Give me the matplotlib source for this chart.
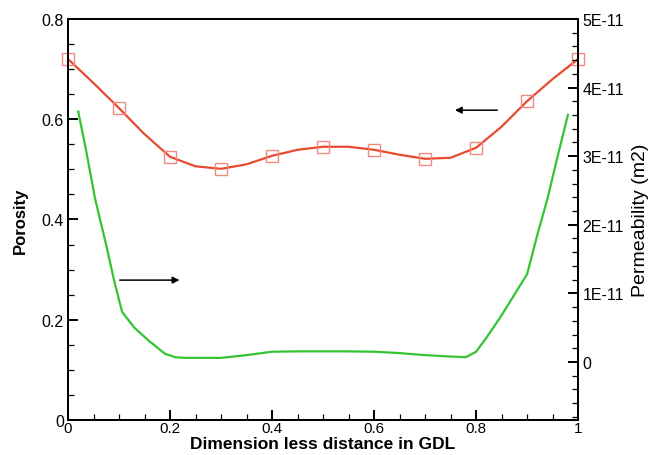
import matplotlib
matplotlib.use("Agg")
import matplotlib.pyplot as plt
from matplotlib.ticker import MultipleLocator

plt.rcParams['font.family'] = ['Liberation Sans', 'DejaVu Sans']

# porosity (markers every 0.1)
por_x = [0.0, 0.05, 0.1, 0.15, 0.2, 0.25, 0.3, 0.35, 0.4, 0.45, 0.5,
         0.55, 0.6, 0.65, 0.7, 0.75, 0.8, 0.85, 0.9, 0.95, 1.0]
por_y = [0.720, 0.672, 0.622, 0.570, 0.525, 0.506, 0.501, 0.510, 0.527, 0.539, 0.545,
         0.545, 0.539, 0.529, 0.521, 0.523, 0.543, 0.585, 0.636, 0.680, 0.720]

# permeability (m2)
perm_x = [0.02, 0.035, 0.053, 0.075, 0.09, 0.106, 0.13, 0.16, 0.19, 0.21, 0.23,
          0.26, 0.30, 0.35, 0.40, 0.45, 0.50, 0.55, 0.60, 0.65, 0.70, 0.75,
          0.78, 0.80, 0.82, 0.85, 0.875, 0.90, 0.92, 0.94, 0.96, 0.98]
perm_y = [3.65, 3.10, 2.38, 1.70, 1.20, 0.73, 0.50, 0.30, 0.12, 0.07, 0.06,
          0.06, 0.06, 0.10, 0.15, 0.155, 0.155, 0.155, 0.15, 0.13, 0.10, 0.08,
          0.07, 0.15, 0.35, 0.68, 0.98, 1.28, 1.85, 2.38, 3.00, 3.60]
perm_y = [v * 1e-11 for v in perm_y]

fig = plt.figure(figsize=(6.51, 4.56), dpi=100)
ax = fig.add_axes([0.1045, 0.0768, 0.7835, 0.8795])
ax2 = ax.twinx()

ax.plot(por_x, por_y, color="#e84a30", lw=1.6, zorder=3)
ax.plot(por_x[::2], por_y[::2], ls="none", marker="s", ms=9, mfc="none",
        mec="#f08a80", mew=1.0, zorder=4, clip_on=False)
ax2.plot(perm_x, perm_y, color="#33c433", lw=1.6)

ax.set_xlim(0, 1)
ax.set_ylim(0, 0.8)
ax2.set_ylim(-0.845e-11, 5e-11)

ax.xaxis.set_major_locator(MultipleLocator(0.2))
ax.xaxis.set_minor_locator(MultipleLocator(0.05))
ax.yaxis.set_major_locator(MultipleLocator(0.2))
ax.yaxis.set_minor_locator(MultipleLocator(0.05))
ax2.yaxis.set_major_locator(MultipleLocator(1e-11))
ax2.yaxis.set_minor_locator(MultipleLocator(0.2e-11))

ax.set_xticks([0, 0.2, 0.4, 0.6, 0.8, 1.0])
ax.set_xticklabels(["0", "0.2", "0.4", "0.6", "0.8", "1"])
ax.set_yticks([0, 0.2, 0.4, 0.6, 0.8])
ax.set_yticklabels(["0", "0.2", "0.4", "0.6", "0.8"])
ax2.set_yticks([0, 1e-11, 2e-11, 3e-11, 4e-11, 5e-11])
ax2.set_yticklabels(["0", "1E-11", "2E-11", "3E-11", "4E-11", "5E-11"])

for a in (ax, ax2):
    a.tick_params(which="major", direction="in", length=7, width=1.4, labelsize=11.5, pad=3)
    a.tick_params(which="minor", direction="in", length=4, width=0.9)
    for s in a.spines.values():
        s.set_linewidth(1.4)
ax.tick_params(axis="both", top=False, right=False)
ax.tick_params(axis="y", which="both", right=False)
ax.tick_params(axis="x", pad=1, labelsize=11)

ax.set_xlabel("Dimension less distance in GDL", fontsize=12.5, fontweight="bold")
ax.xaxis.set_label_coords(0.5, -0.039)
ax.set_ylabel("Porosity", fontsize=12, fontweight="bold")
ax.yaxis.set_label_coords(-0.078, 0.5)
ax2.set_ylabel("Permeability (m2)", fontsize=14)
ax2.yaxis.set_label_coords(1.105, 0.5)

# arrows pointing to the matching axis
ax.annotate("", xy=(0.753, 0.618), xytext=(0.847, 0.618),
            arrowprops=dict(arrowstyle="-|>", color="black", lw=1.1, mutation_scale=10))
ax.annotate("", xy=(0.224, 0.279), xytext=(0.096, 0.279),
            arrowprops=dict(arrowstyle="-|>", color="black", lw=1.1, mutation_scale=10))

fig.savefig("out.png", dpi=100)
